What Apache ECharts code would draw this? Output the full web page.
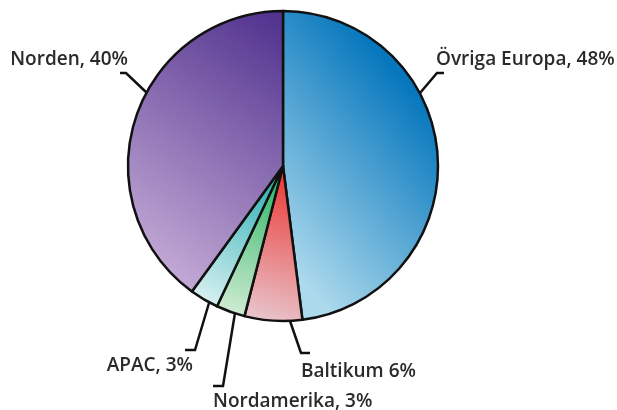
<!DOCTYPE html>
<html>
<head>
<meta charset="utf-8">
<script src="https://cdn.jsdelivr.net/npm/echarts@6/dist/echarts.min.js"></script>
<style>
  html, body { margin: 0; padding: 0; background: #fff; }
  #chart { width: 617px; height: 410px; }
</style>
</head>
<body>
<div id="chart"></div>
<script>
  // andelar per region (%)
  var regions = ['Övriga Europa', 'Baltikum', 'Nordamerika', 'APAC', 'Norden'];
  var shares = [48, 6, 3, 3, 40];
  var labelTexts = ['Övriga Europa, 48%', 'Baltikum 6%', 'Nordamerika, 3%', 'APAC, 3%', 'Norden, 40%'];

  // gradient: riktning (x, y, x2, y2 i sektorns box) + [mörk, ljus]
  var sliceStyles = [
    { dir: [1, 0.35, 0, 0.8], colors: ['#0677bd', '#acd9ec'] },
    { dir: [0.8, 0, 0, 1], colors: ['#ea2f2a', '#e8ccd4'] },
    { dir: [0.8, 0, 0, 1], colors: ['#23b15e', '#d9efd9'] },
    { dir: [0.8, 0, 0, 1], colors: ['#22abb1', '#e6f6f6'] },
    { dir: [1, 0.05, 0, 0.85], colors: ['#52338f', '#c4aad6'] }
  ];

  // textplacering och linjer (px)
  var labelPos = [
    { x: 436, y: 60, align: 'left', line: [[420, 93], [437, 73], [444, 73]] },
    { x: 301, y: 372, align: 'left', line: [[290, 321], [301, 353], [310, 353]] },
    { x: 213, y: 402, align: 'left', line: [[235, 313], [223, 386], [213, 386]] },
    { x: 193, y: 366, align: 'right', line: [[209, 303], [195, 350], [185, 350]] },
    { x: 128, y: 60, align: 'right', line: [[147, 93], [126, 73], [120, 73]] }
  ];

  var chart = echarts.init(document.getElementById('chart'));

  var pieData = regions.map(function (name, i) {
    var s = sliceStyles[i];
    return {
      name: name,
      value: shares[i],
      itemStyle: {
        color: new echarts.graphic.LinearGradient(s.dir[0], s.dir[1], s.dir[2], s.dir[3], [
          { offset: 0, color: s.colors[0] },
          { offset: 1, color: s.colors[1] }
        ])
      },
      label: { formatter: labelTexts[i] }
    };
  });

  chart.setOption({
    animation: false,
    series: [
      {
        type: 'pie',
        center: [283, 166],
        radius: 155,
        startAngle: 90,
        clockwise: true,
        data: pieData,
        itemStyle: {
          borderColor: '#111',
          borderWidth: 2.5
        },
        label: {
          show: true,
          color: '#2a2a2a',
          fontFamily: 'Open Sans',
          fontWeight: 600,
          fontSize: 19,
          overflow: 'none'
        },
        labelLine: {
          show: true,
          lineStyle: { color: '#111', width: 2.5 }
        },
        labelLayout: function (params) {
          var p = labelPos[params.dataIndex];
          return {
            x: p.x,
            y: p.y,
            align: p.align,
            verticalAlign: 'middle',
            labelLinePoints: p.line
          };
        },
        emphasis: { disabled: true }
      }
    ]
  });
</script>
</body>
</html>
